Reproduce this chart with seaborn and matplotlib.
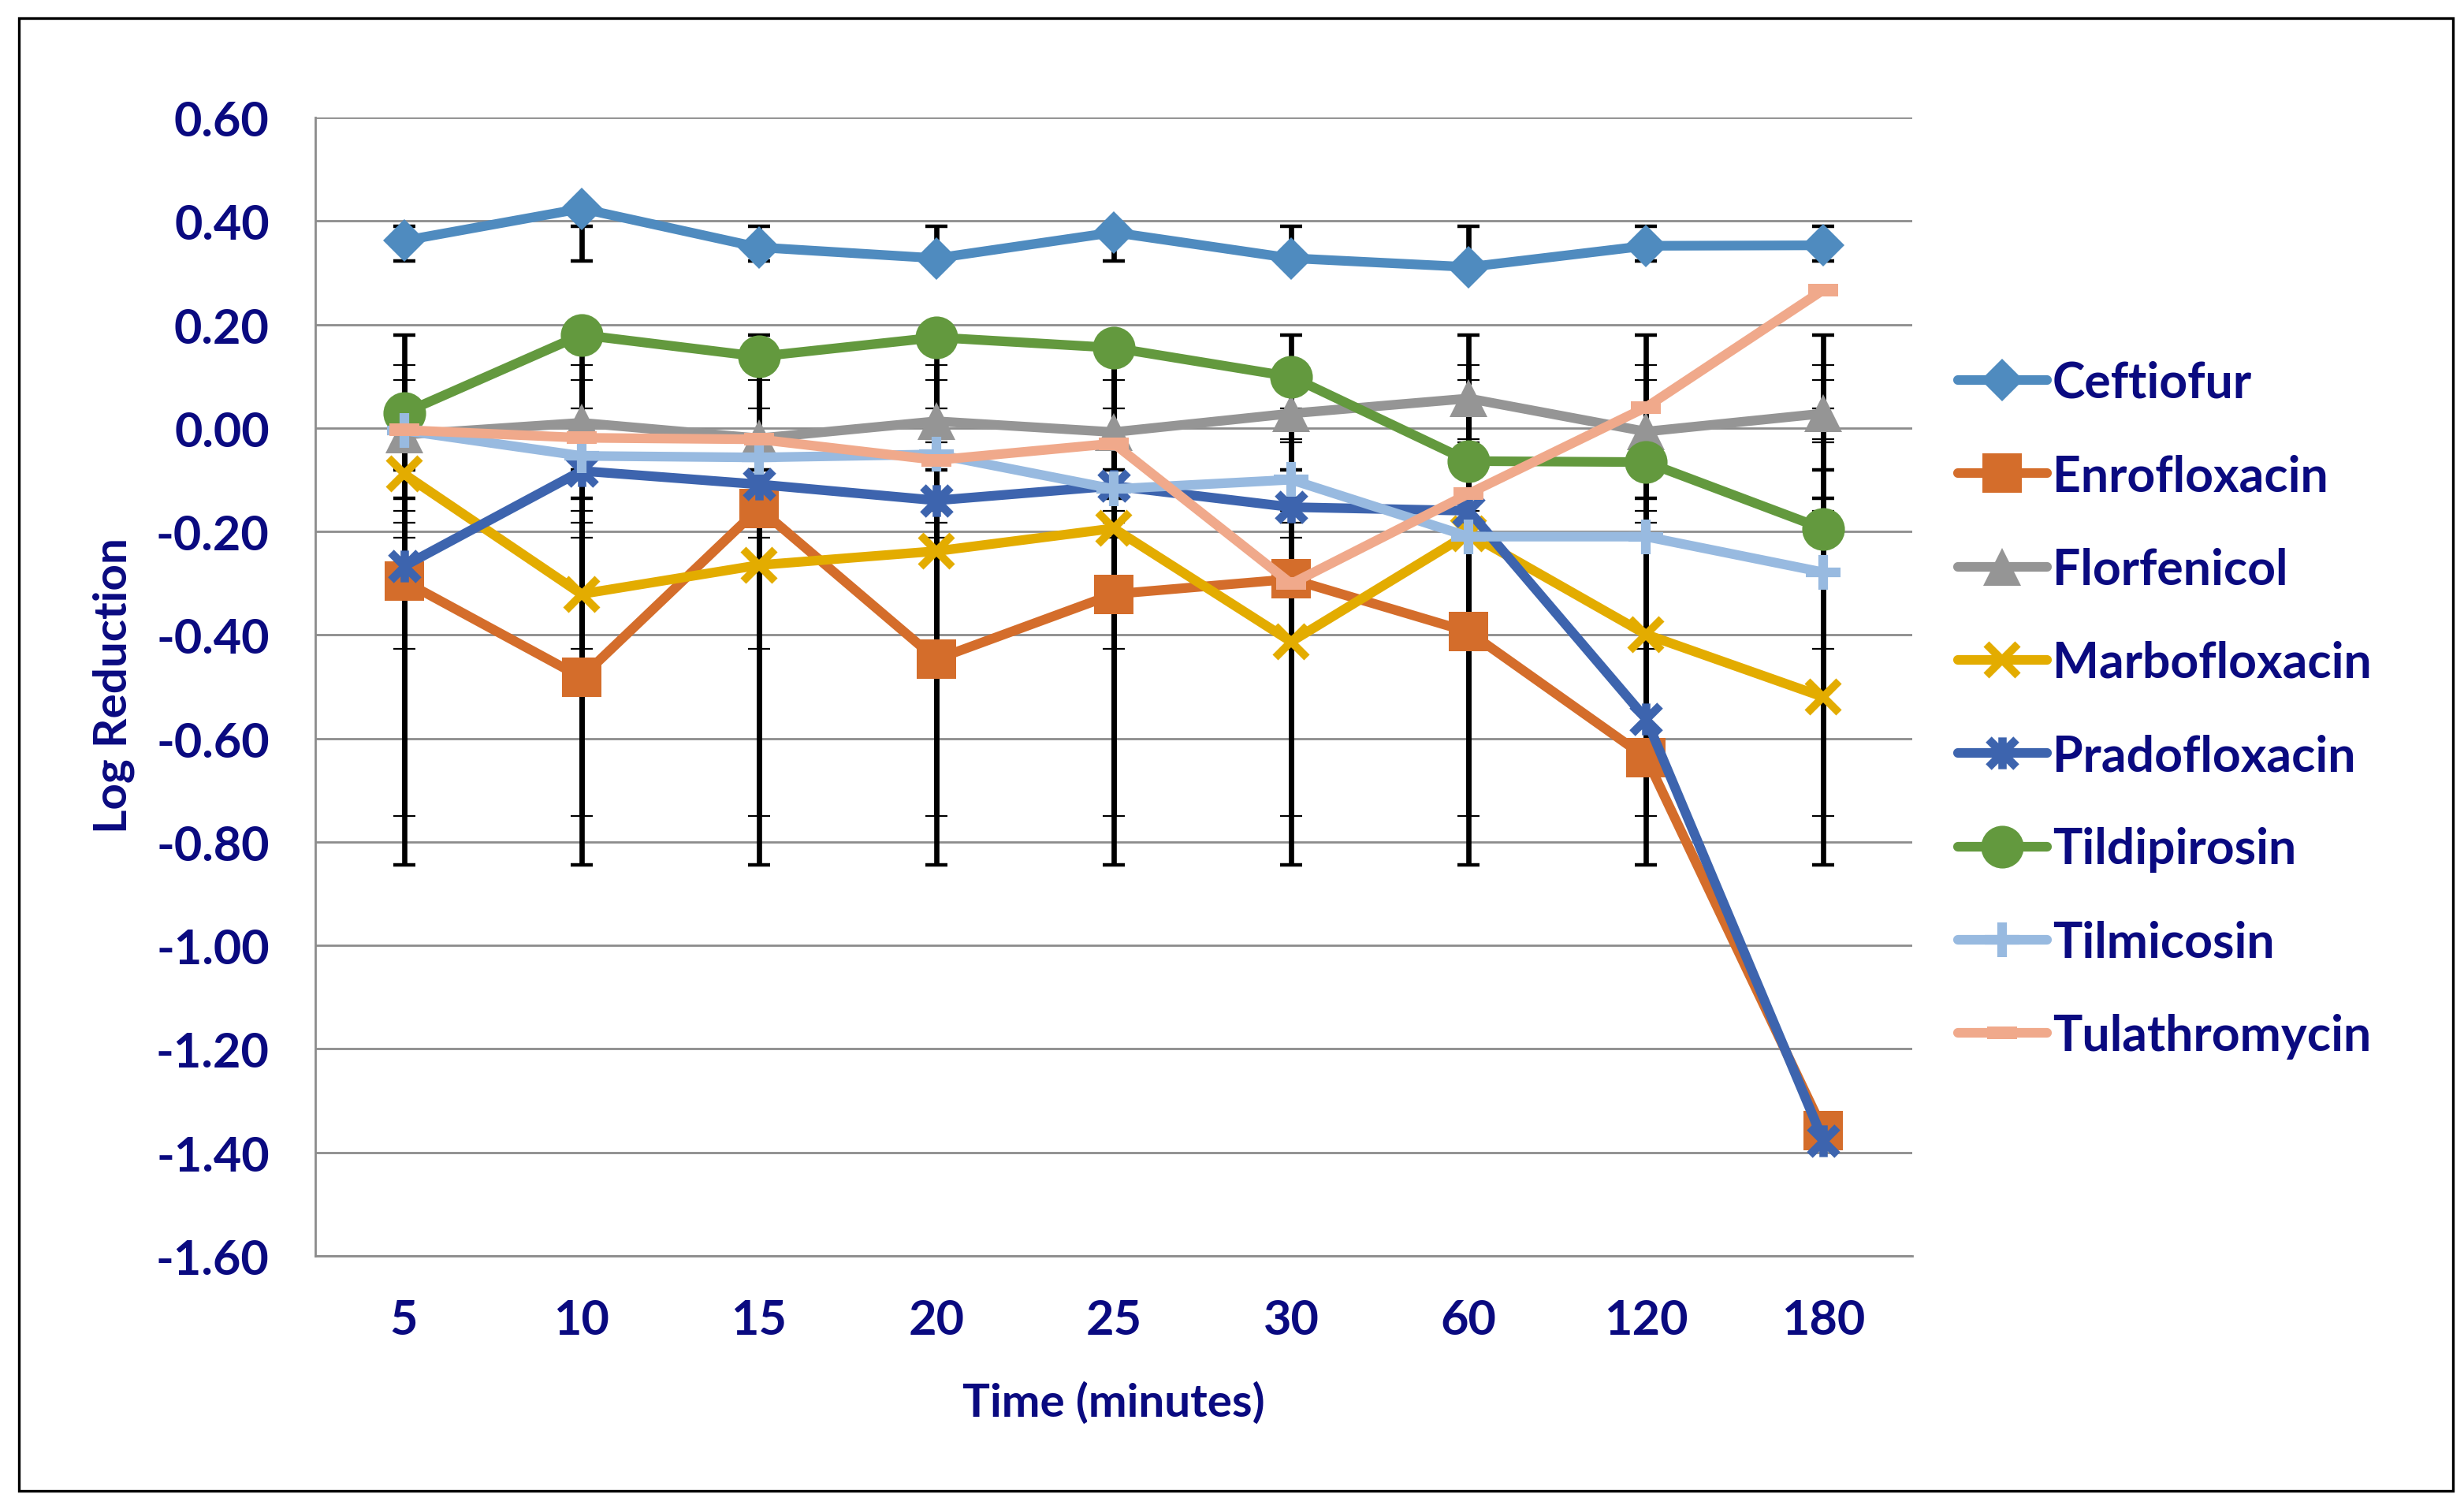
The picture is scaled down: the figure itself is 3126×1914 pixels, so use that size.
import numpy as np
import pandas as pd
import matplotlib
matplotlib.use("Agg")
import matplotlib.pyplot as plt
from matplotlib.path import Path
from matplotlib.patches import Rectangle
import seaborn as sns

# ---------------- data ----------------
time_labels = ["5", "10", "15", "20", "25", "30", "60", "120", "180"]
series_names = ["Ceftiofur", "Enrofloxacin", "Florfenicol", "Marbofloxacin",
                "Pradofloxacin", "Tildipirosin", "Tilmicosin", "Tulathromycin"]

ceftiofur     = [0.362, 0.424, 0.349, 0.328, 0.378, 0.328, 0.311, 0.352, 0.353]
enrofloxacin  = [-0.296, -0.482, -0.155, -0.447, -0.321, -0.292, -0.394, -0.637, -1.358]
florfenicol   = [-0.013, 0.010, -0.020, 0.013, -0.008, 0.028, 0.057, -0.007, 0.028]
marbofloxacin = [-0.089, -0.321, -0.265, -0.238, -0.194, -0.413, -0.204, -0.399, -0.520]
pradofloxacin = [-0.267, -0.083, -0.109, -0.140, -0.112, -0.153, -0.160, -0.562, -1.378]
tildipirosin  = [0.029, 0.180, 0.138, 0.175, 0.155, 0.099, -0.064, -0.066, -0.195]
tilmicosin    = [-0.005, -0.054, -0.057, -0.051, -0.118, -0.100, -0.210, -0.210, -0.279]
tulathromycin = [-0.004, -0.019, -0.022, -0.062, -0.030, -0.301, -0.127, 0.040, 0.267]

# error bar extents (same for every time point of a series)
err_low  = [0.322, -0.844, -0.022, -0.427, -0.750, -0.081, -0.212, -0.183]
err_high = [0.389, -0.136, 0.038, -0.160, 0.092, 0.180, -0.027, 0.121]

y_ticks = [0.60, 0.40, 0.20, 0.00, -0.20, -0.40, -0.60, -0.80, -1.00, -1.20, -1.40, -1.60]

values = [ceftiofur, enrofloxacin, florfenicol, marbofloxacin,
          pradofloxacin, tildipirosin, tilmicosin, tulathromycin]

# ---------------- styles ----------------
colors = ["#4F8BBF", "#D46D2B", "#959595", "#E3AC00",
          "#3D64AE", "#63993E", "#98BAE0", "#F0A98B"]

star_path = Path([(-1, -1), (1, 1), (-1, 1), (1, -1), (0, -1.15), (0, 1.15)],
                 [Path.MOVETO, Path.LINETO, Path.MOVETO, Path.LINETO, Path.MOVETO, Path.LINETO])
dash_path = Path([(-1, -0.45), (1, -0.45), (1, 0.45), (-1, 0.45), (-1, -0.45)],
                 [Path.MOVETO, Path.LINETO, Path.LINETO, Path.LINETO, Path.CLOSEPOLY])

marker_styles = [
    dict(marker="D", markersize=13.6, markeredgewidth=0),
    dict(marker="s", markersize=18, markeredgewidth=0),
    dict(marker="^", markersize=17.5, markeredgewidth=0),
    dict(marker="x", markersize=14.5, markeredgewidth=3.6),
    dict(marker=star_path, markersize=14.5, markeredgewidth=3.8, markerfacecolor="none"),
    dict(marker="o", markersize=19.5, markeredgewidth=0),
    dict(marker="+", markersize=16, markeredgewidth=4.4),
    dict(marker=dash_path, markersize=13.5, markeredgewidth=0),
]
cap_thick = [1.6, 1.6, 0.8, 0.8, 0.8, 1.6, 0.8, 0.8]

text_color = "#0A0A80"

sns.set_style("white")
plt.rcParams["font.family"] = ["Lato", "DejaVu Sans"]
plt.rcParams["font.weight"] = "bold"

fig = plt.figure(figsize=(15.63, 9.575), dpi=200)
ax = fig.add_axes([400 / 3126, 321 / 1915, 2026 / 3126, 1444 / 1915])

x = np.arange(len(time_labels))

# error bars (behind lines)
for i, name in enumerate(series_names):
    center = (err_low[i] + err_high[i]) / 2
    half = (err_high[i] - err_low[i]) / 2
    ax.errorbar(x, [center] * len(x), yerr=half, fmt="none", ecolor="black",
                elinewidth=2.4, capsize=5, capthick=cap_thick[i], zorder=2)

for i, name in enumerate(series_names):
    df = pd.DataFrame({"time": x, "val": values[i]})
    sty = dict(marker_styles[i])
    sns.lineplot(data=df, x="time", y="val", ax=ax, color=colors[i], linewidth=4.4,
                 label=name, markeredgecolor=colors[i], zorder=3 + i, **sty)

ax.set_xlim(-0.5, len(x) - 0.5)
ax.set_ylim(-1.6, 0.6)
ax.set_yticks(y_ticks)
ax.set_yticklabels([f"{v:.2f}" for v in y_ticks])
ax.set_xticks(x)
ax.set_xticklabels(time_labels)
ax.grid(axis="y", color="#8C8C8C", linewidth=1.0, zorder=0)
ax.grid(axis="x", visible=False)
ax.set_axisbelow(True)
for s in ["top", "right"]:
    ax.spines[s].set_visible(False)
for s in ["left", "bottom"]:
    ax.spines[s].set_color("#8C8C8C")
    ax.spines[s].set_linewidth(1.0)
ax.tick_params(axis="y", length=0, pad=21, labelsize=22, labelcolor=text_color)
ax.tick_params(axis="x", length=0, pad=19, labelsize=22, labelcolor=text_color)
for lab in ax.get_xticklabels() + ax.get_yticklabels():
    lab.set_fontweight("bold")

ax.set_xlabel("Time (minutes)", fontsize=21, fontweight="bold", color=text_color)
ax.set_ylabel("Log Reduction", fontsize=21, fontweight="bold", color=text_color)
ax.xaxis.label.set_va("center")
ax.xaxis.set_label_coords(0.5, (1594 - 1780) / 1444)
ax.yaxis.label.set_va("center")
ax.yaxis.set_label_coords((144 - 400) / 2026, (1594 - 870) / 1444)

leg = ax.legend(loc="center left", bbox_to_anchor=(2484 / 3126, 1 - 901 / 1915),
                bbox_transform=fig.transFigure, frameon=False, borderpad=0,
                borderaxespad=0, handlelength=1.8, handletextpad=0.12,
                labelspacing=0.965, numpoints=1,
                prop=dict(family=["Lato", "DejaVu Sans"], weight="bold", size=22.5))
for t in leg.get_texts():
    t.set_color(text_color)

fig.patches.append(Rectangle((24 / 3126, 23 / 1915), (3112 - 24) / 3126, (1892 - 24) / 1915,
                             transform=fig.transFigure, fill=False, edgecolor="black",
                             linewidth=1.2))

fig.savefig("out.png", dpi=200, facecolor="white")
